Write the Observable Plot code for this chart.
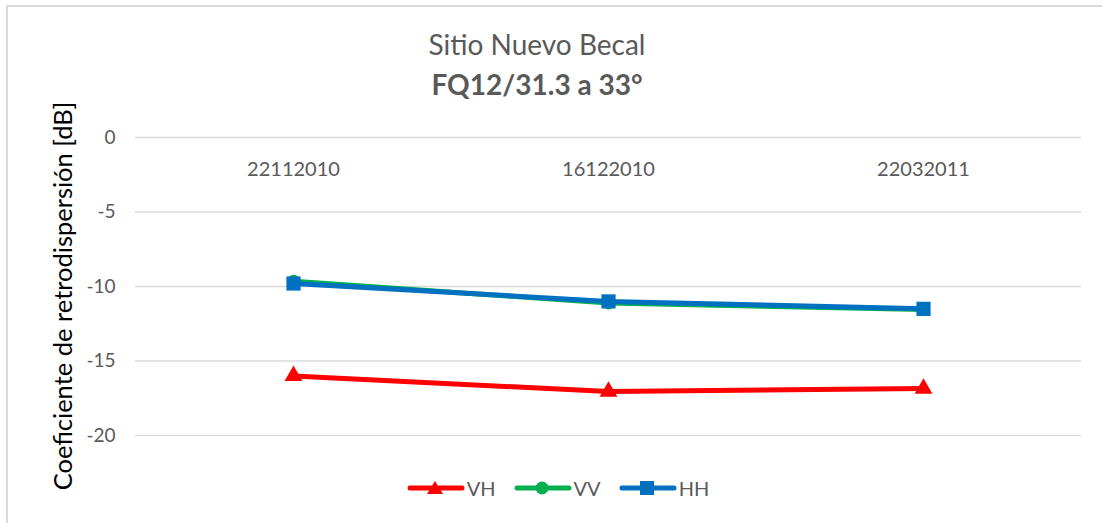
<!DOCTYPE html>
<html>
<head>
<meta charset="utf-8">
<script src="https://cdn.jsdelivr.net/npm/d3@7"></script>
<script src="https://cdn.jsdelivr.net/npm/@observablehq/plot@0.6"></script>
<style>
  html, body { margin: 0; padding: 0; background: #fff; }
  #wrap { position: relative; width: 1102px; height: 523px; font-family: Lato, "Open Sans", sans-serif; color: #595959; overflow: hidden; }
  #border { position: absolute; left: 6px; top: 5px; width: 1200px; height: 600px; border: 2px solid #D9D9D9; box-sizing: border-box; z-index: 5; pointer-events: none; }
  #title1 { position: absolute; left: 0; width: 1074px; top: 27px; text-align: center; font-size: 28px; line-height: 34px; }
  #title2 { position: absolute; left: 0; width: 1074px; top: 67px; text-align: center; font-size: 28px; line-height: 34px; font-weight: bold; }
  #ytitle { position: absolute; left: 62px; top: 296px; transform: translate(-50%, -50%) rotate(-90deg); white-space: nowrap; font-size: 25.5px; color: #000; }
  #legend { position: absolute; left: 0; width: 1126px; top: 476px; display: flex; justify-content: center; gap: 8px; font-size: 20px; }
  .item { display: flex; align-items: center; gap: 2px; margin-right: 10px; }
  #chart { position: absolute; left: 0; top: 0; }
</style>
</head>
<body>
<div id="wrap">
  <div id="chart"></div>
  <div id="title1">Sitio Nuevo Becal</div>
  <div id="title2">FQ12/31.3 a 33°</div>
  <div id="ytitle">Coeficiente de retrodispersión [dB]</div>
  <div id="legend"></div>
  <div id="border"></div>
</div>
<script>
const dates = ["22112010", "16122010", "22032011"];
const seriesNames = ["VH", "VV", "HH"];
const vh = [-16.0, -17.05, -16.85];
const vv = [-9.65, -11.1, -11.55];
const hh = [-9.8, -11.0, -11.5];
const yTicks = [0, -5, -10, -15, -20];
const colors = {VH: "#FF0000", VV: "#00B050", HH: "#0070C0"};
const symbols = {VH: "triangle2", VV: "circle", HH: "square"};
const radii = {VH: 8.5, VV: 6.5, HH: 8};

const values = {VH: vh, VV: vv, HH: hh};
const data = [];
for (const s of seriesNames) dates.forEach((d, i) => data.push({series: s, date: d, value: values[s][i]}));

const marks = [
  Plot.ruleY(yTicks, {stroke: "#D9D9D9", strokeWidth: 1.5}),
  Plot.text(yTicks, {y: d => d, frameAnchor: "left", dx: -20, textAnchor: "end", text: d => String(d), fontSize: 19, fill: "#595959"}),
  Plot.text(dates, {x: d => d, y: 0, dy: 32, text: d => d, fontSize: 20, fill: "#595959"})
];
for (const s of seriesNames) {
  const sd = data.filter(d => d.series === s);
  marks.push(Plot.line(sd, {x: "date", y: "value", stroke: colors[s], strokeWidth: 5}));
  marks.push(Plot.dot(sd, {x: "date", y: "value", symbol: symbols[s], r: radii[s], fill: colors[s], stroke: "none"}));
}

const chart = Plot.plot({
  width: 1102, height: 523,
  marginTop: 137, marginBottom: 88, marginLeft: 135, marginRight: 21,
  style: {fontFamily: "Lato, 'Open Sans', sans-serif", color: "#595959", background: "transparent"},
  x: {type: "point", domain: dates, padding: 0.5, axis: null},
  y: {domain: [-20, 0], axis: null},
  marks
});
document.getElementById("chart").appendChild(chart);

// legend
const leg = document.getElementById("legend");
for (const s of seriesNames) {
  const item = document.createElement("div");
  item.className = "item";
  const sym = s === "VH" ? `<polygon points="28,5 36,18 20,18" fill="${colors[s]}"/>`
            : s === "VV" ? `<circle cx="28" cy="12" r="6.5" fill="${colors[s]}"/>`
            : `<rect x="21" y="5" width="14" height="14" fill="${colors[s]}"/>`;
  item.innerHTML = `<svg width="58" height="24"><line x1="3" y1="12" x2="55" y2="12" stroke="${colors[s]}" stroke-width="5" stroke-linecap="round"/>${sym}</svg><span>${s}</span>`;
  leg.appendChild(item);
}
</script>
</body>
</html>
